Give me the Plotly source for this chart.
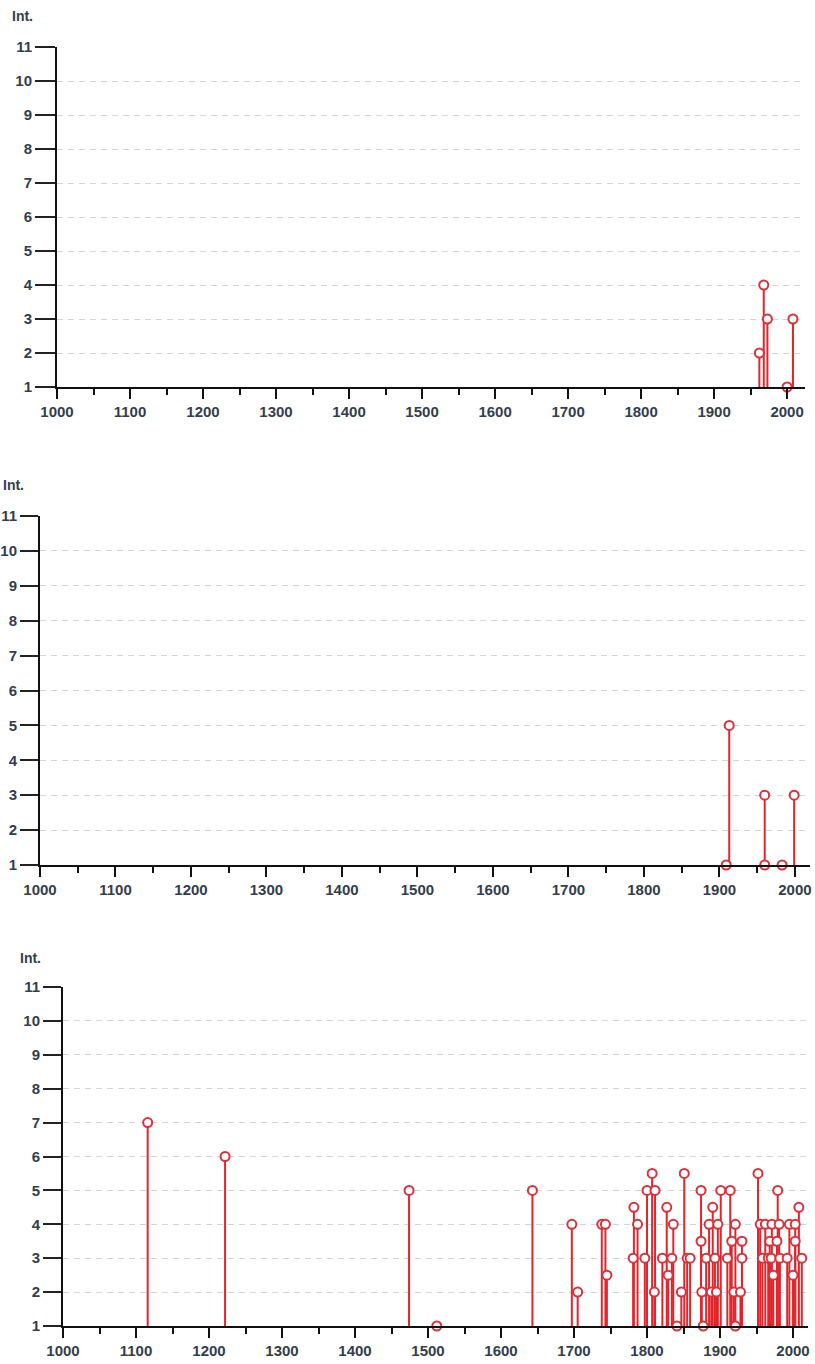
import plotly.graph_objects as go

W, H = 815, 1364

# Panel A
years_a = [1962, 1968, 1973, 2000, 2008]
int_a = [2, 4, 3, 1, 3]

# Panel B
years_b = [1909, 1913, 1960, 1960, 1983, 1999]
int_b = [1, 5, 3, 1, 1, 3]

# Panel C
years_c = [1116, 1222, 1474, 1512, 1643, 1697, 1705, 1738, 1743, 1745,
           1781, 1782, 1787, 1797, 1800, 1807, 1810, 1811, 1821, 1827,
           1829, 1834, 1836, 1841, 1847, 1851, 1855, 1859, 1874, 1874,
           1875, 1877, 1881, 1885, 1888, 1890, 1893, 1895, 1897, 1901,
           1910, 1914, 1916, 1919, 1921, 1921, 1928, 1930, 1930, 1952,
           1955, 1958, 1962, 1966, 1968, 1970, 1971, 1973, 1978, 1979,
           1981, 1982, 1992, 1995, 2000, 2003, 2003, 2008, 2012]
int_c = [7, 6, 5, 1, 5, 4, 2, 4, 4, 2.5,
         3, 4.5, 4, 3, 5, 5.5, 2, 5, 3, 4.5,
         2.5, 3, 4, 1, 2, 5.5, 3, 3, 5, 3.5,
         2, 1, 3, 4, 2, 4.5, 3, 2, 4, 5,
         3, 5, 3.5, 2, 4, 1, 2, 3.5, 3, 5.5,
         4, 3, 4, 3, 3.5, 3, 4, 2.5, 3.5, 5,
         4, 3, 3, 4, 2.5, 4, 3.5, 4.5, 3]

y_ticks = list(range(1, 12))
x_ticks = list(range(1000, 2001, 100))

STEM = "#e3242b"
EDGE = "#d8323c"
TXT = "#323e4e"
FONT = "Liberation Sans"

# panel geometry in pixels: left, right, top, bottom, x-range end, y tick length, label pos
panels = [
    dict(years=years_a, vals=int_a, l=57, r=805, t=47, b=387, xend=2024.5, tl=20, lab=(10, 16)),
    dict(years=years_b, vals=int_b, l=40, r=810, t=516, b=865, xend=2020, tl=18, lab=(1, 485)),
    dict(years=years_c, vals=int_c, l=63, r=808, t=987, b=1326, xend=2020.5, tl=18, lab=(18, 958)),
]

fig = go.Figure()
layout = dict(
    width=W, height=H,
    margin=dict(l=0, r=0, t=0, b=0, autoexpand=False),
    paper_bgcolor="white", plot_bgcolor="white",
    showlegend=False,
    annotations=[],
)

for i, p in enumerate(panels, start=1):
    xa = "x" if i == 1 else f"x{i}"
    ya = "y" if i == 1 else f"y{i}"
    base = y_ticks[0]
    sx, sy = [], []
    for yr, v in zip(p["years"], p["vals"]):
        sx += [yr, yr, None]
        sy += [base, v, None]
    fig.add_trace(go.Scatter(x=sx, y=sy, mode="lines", xaxis=xa, yaxis=ya,
                             line=dict(color=STEM, width=2), hoverinfo="skip",
                             cliponaxis=False))
    fig.add_trace(go.Scatter(x=p["years"], y=p["vals"], mode="markers", xaxis=xa, yaxis=ya,
                             marker=dict(symbol="circle", size=9, color="white",
                                         line=dict(color=EDGE, width=2)),
                             cliponaxis=False))

    xk = "xaxis" if i == 1 else f"xaxis{i}"
    yk = "yaxis" if i == 1 else f"yaxis{i}"
    layout[xk] = dict(
        domain=[p["l"] / W, p["r"] / W],
        anchor=ya, range=[1000, p["xend"]], automargin=False,
        tickvals=x_ticks, ticks="outside", ticklen=10, tickwidth=2, tickcolor="#111",
        minor=dict(tickvals=[x + 50 for x in x_ticks[:-1]] + [2050], ticks="outside",
                   ticklen=6, tickwidth=2, tickcolor="#111", showgrid=False),
        showline=True, linecolor="#111", linewidth=2,
        showgrid=False, zeroline=False,
        tickfont=dict(family=FONT, size=15, color=TXT, weight="bold"),
    )
    layout[yk] = dict(
        domain=[1 - p["b"] / H, 1 - p["t"] / H],
        anchor=xa, range=[y_ticks[0], y_ticks[-1]], automargin=False,
        tickvals=y_ticks, ticks="outside", ticklen=p["tl"], tickwidth=2, tickcolor="#222",
        showline=True, linecolor="#111", linewidth=2,
        showgrid=True, gridcolor="#d4d4d4", gridwidth=1, griddash="6px,5px",
        zeroline=False,
        tickfont=dict(family=FONT, size=15, color=TXT, weight="bold"),
    )
    lx, ly = p["lab"]
    layout["annotations"].append(dict(
        text="Int.", x=lx / W, y=1 - ly / H, xref="paper", yref="paper",
        xanchor="left", yanchor="middle", showarrow=False,
        font=dict(family=FONT, size=14, color=TXT, weight="bold"),
    ))

fig.update_layout(**layout)
fig.write_html("out.html")
